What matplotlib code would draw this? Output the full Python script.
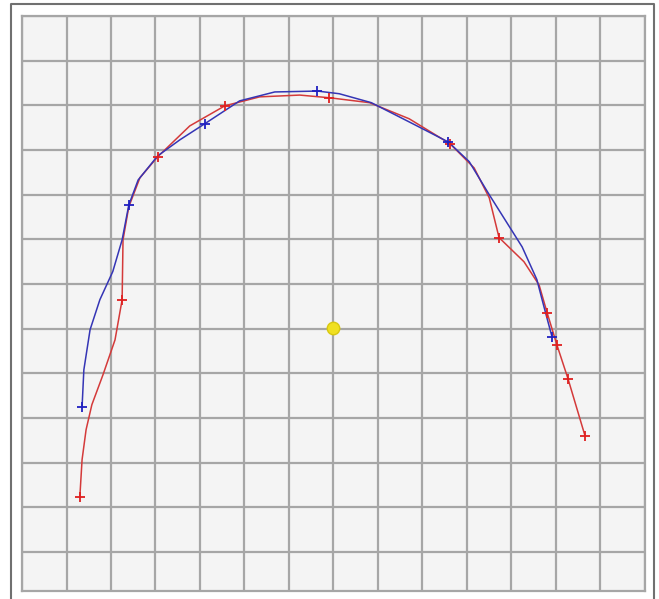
import matplotlib
matplotlib.use('Agg')
import matplotlib.pyplot as plt
from matplotlib.lines import Line2D
import numpy as np

# path of the red track (grid units, centre at 0,0)
red_x = [-5.70, -5.65, -5.56, -5.43, -5.18, -4.91, -4.75, -4.73, -4.60, -4.35,
         -3.95, -3.23, -2.44, -1.66, -0.76, -0.09, 0.81, 1.70, 2.62, 3.16,
         3.50, 3.72, 4.28, 4.62, 4.80, 5.02, 5.27, 5.65]
red_y = [-3.76, -2.93, -2.26, -1.70, -1.03, -0.25, 0.65, 1.99, 2.73, 3.38,
         3.85, 4.54, 4.99, 5.19, 5.23, 5.17, 5.06, 4.70, 4.14, 3.60,
         2.93, 2.04, 1.50, 0.98, 0.36, -0.36, -1.12, -2.39]
red_marks = [0, 6, 10, 12, 15, 18, 21, 24, 25, 26, 27]

# path of the blue track
blue_x = [-5.65, -5.61, -5.47, -5.25, -4.96, -4.75, -4.60, -4.39, -3.95, -3.45,
          -2.89, -2.11, -1.32, -0.36, 0.13, 0.85, 1.70, 2.58, 3.05, 3.50,
          4.24, 4.57, 4.73, 4.91]
blue_y = [-1.75, -0.92, -0.02, 0.65, 1.28, 1.99, 2.77, 3.33, 3.87, 4.23,
          4.59, 5.10, 5.30, 5.32, 5.26, 5.06, 4.63, 4.18, 3.74, 3.00,
          1.83, 1.10, 0.49, -0.18]
blue_marks = [0, 6, 10, 13, 17, 23]

centre = (0.0, 0.02)

W, H = 659, 599
fig = plt.figure(figsize=(W / 100, H / 100), dpi=100)
ax = fig.add_axes([22 / W, 8 / H, 623 / W, 575 / H])
ax.set_facecolor('#f4f4f4')
ax.set_xlim(-7, 7)
ax.set_ylim(-5.87, 7)
ax.set_xticks(np.arange(-7, 8))
ax.set_yticks(np.arange(-5, 8))
ax.grid(True, color='#a6a6a6', linewidth=1.6)
ax.tick_params(length=0, labelbottom=False, labelleft=False)
for s in ax.spines.values():
    s.set_color('#a6a6a6')
    s.set_linewidth(1.6)

ax.plot(red_x, red_y, color='#d43a3a', linewidth=1.1, zorder=3)
ax.plot(np.array(red_x)[red_marks], np.array(red_y)[red_marks], '+',
        color='#e02020', markersize=7, markeredgewidth=1.3, zorder=4)
ax.plot(blue_x, blue_y, color='#3535b5', linewidth=1.1, zorder=3)
ax.plot(np.array(blue_x)[blue_marks], np.array(blue_y)[blue_marks], '+',
        color='#2020c0', markersize=7, markeredgewidth=1.3, zorder=4)
ax.plot(*centre, 'o', color='#f0e020', markeredgecolor='#d8c810',
        markersize=9, zorder=5)

# outer frame, open at the bottom
fx = [11 / W, 11 / W, 654 / W, 654 / W]
fy = [0, 1 - 4 / H, 1 - 4 / H, 0]
fig.add_artist(Line2D(fx, fy, color='#707070', linewidth=1.5))

fig.savefig('out.png', dpi=100)
